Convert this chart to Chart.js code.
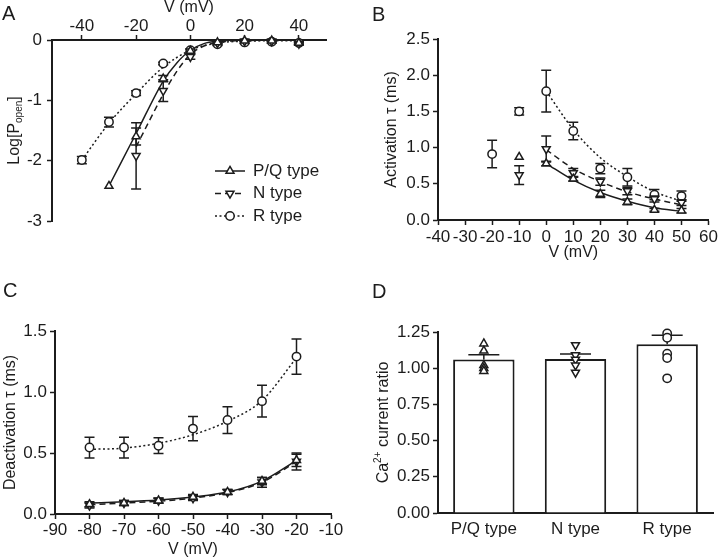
<!DOCTYPE html>
<html>
<head>
<meta charset="utf-8">
<script src="https://cdn.jsdelivr.net/npm/chart.js@4.4.0/dist/chart.umd.min.js"></script>
<style>
  html, body { margin: 0; padding: 0; background: #fff; }
  #wrap { position: relative; width: 720px; height: 560px; }
  #wrap canvas { position: absolute; }
</style>
</head>
<body>
<div id="wrap">
  <canvas id="chartA" width="360" height="280" style="left:0;top:0"></canvas>
  <canvas id="chartB" width="360" height="280" style="left:360px;top:0"></canvas>
  <canvas id="chartC" width="360" height="280" style="left:0;top:280px"></canvas>
  <canvas id="chartD" width="360" height="280" style="left:360px;top:280px"></canvas>
</div>
<script>
'use strict'

// ---- data ----
// A: log open probability vs voltage
const vPQ_A = [-30, -20, -10, 0, 10, 20, 30, 40]
const logPPQ = [-2.42, -1.60, -0.64, -0.18, -0.04, -0.01, -0.01, -0.05]
const errPPQ = [0, 0.14, 0.05, 0.03, 0.02, 0.01, 0.01, 0.02]
const vN_A = [-20, -10, 0, 10, 20, 30, 40]
const logPN = [-1.92, -0.84, -0.28, -0.05, -0.02, -0.02, -0.06]
const errPN = [0.55, 0.18, 0.04, 0.02, 0.01, 0.01, 0.02]
const vR_A = [-40, -30, -20, -10, 0, 10, 20, 30, 40]
const logPR = [-1.99, -1.36, -0.88, -0.39, -0.17, -0.07, -0.04, -0.03, -0.05]
const errPR = [0.06, 0.08, 0.04, 0.02, 0.02, 0.02, 0.02, 0.02, 0.02]
// fitted curves, traced
const fitPQ_Ax = [-30, -20, -10, -5, 0, 5, 10, 20, 40]
const fitPQ_Ay = [-2.42, -1.55, -0.68, -0.38, -0.17, -0.06, -0.02, 0, 0]
const fitN_Ax = [-20, -10, -5, 0, 5, 10, 20, 40]
const fitN_Ay = [-1.77, -0.90, -0.52, -0.24, -0.10, -0.04, -0.01, 0]
const fitR_Ax = [-40, -30, -20, -10, 0, 10, 20, 40]
const fitR_Ay = [-1.99, -1.38, -0.89, -0.45, -0.17, -0.05, -0.02, -0.01]
const ticksA_x = [-40, -20, 0, 20, 40]
const ticksA_y = [-3, -2, -1, 0]

// B: activation tau
const vPQ_B = [-10, 0, 10, 20, 30, 40, 50]
const actPQ = [0.87, 0.78, 0.57, 0.36, 0.25, 0.14, 0.13]
const actPQErr = [0, 0.03, 0.03, 0.05, 0.04, 0.02, 0.03]
const vN_B = [-10, 0, 10, 20, 30, 40, 50]
const actN = [0.62, 0.98, 0.65, 0.53, 0.40, 0.29, 0.24]
const actNErr = [0.13, 0.18, 0.06, 0.05, 0.05, 0.04, 0.04]
const vR_B = [-20, -10, 0, 10, 20, 30, 40, 50]
const actR = [0.91, 1.50, 1.78, 1.23, 0.71, 0.59, 0.35, 0.33]
const actRErr = [0.19, 0.05, 0.29, 0.12, 0.07, 0.12, 0.07, 0.07]
const fitBx = [0, 10, 20, 30, 40, 50]
const fitPQ_B = [0.78, 0.55, 0.38, 0.26, 0.17, 0.12]
const fitN_B = [0.97, 0.71, 0.53, 0.39, 0.29, 0.21]
const fitR_B = [1.78, 1.25, 0.86, 0.60, 0.39, 0.26]
const ticksB_x = [-40, -30, -20, -10, 0, 10, 20, 30, 40, 50, 60]
const ticksB_y = [0, 0.5, 1, 1.5, 2, 2.5]

// C: deactivation tau
const vC = [-80, -70, -60, -50, -40, -30, -20]
const deactPQ = [0.08, 0.09, 0.11, 0.14, 0.18, 0.27, 0.44]
const deactPQErr = [0.02, 0.02, 0.02, 0.02, 0.02, 0.03, 0.05]
const deactN = [0.07, 0.09, 0.11, 0.13, 0.18, 0.26, 0.43]
const deactNErr = [0.02, 0.02, 0.02, 0.02, 0.02, 0.04, 0.07]
const deactR = [0.545, 0.545, 0.56, 0.70, 0.77, 0.925, 1.29]
const deactRErr = [0.085, 0.085, 0.065, 0.10, 0.11, 0.13, 0.145]
const fitPQ_C = [0.09, 0.10, 0.115, 0.14, 0.18, 0.27, 0.44]
const fitN_C = [0.075, 0.09, 0.105, 0.13, 0.175, 0.26, 0.43]
const fitR_C = [0.53, 0.54, 0.58, 0.65, 0.76, 0.93, 1.28]
const ticksC_x = [-90, -80, -70, -60, -50, -40, -30, -20, -10]
const ticksC_y = [0, 0.5, 1, 1.5]

// D: Ca2+ current ratio
const typesD = ['P/Q type', 'N type', 'R type']
const ratioMean = [1.06, 1.064, 1.165]
const ratioSem = [0.033, 0.034, 0.062]
const ratioPQ = [1.17, 1.12, 1.02, 1.00, 0.98]
const ratioN = [1.16, 1.09, 1.06, 1.02, 0.97]
const ratioR = [1.24, 1.21, 1.10, 1.07, 0.93]
const ticksD_y = [0, 0.25, 0.5, 0.75, 1, 1.25]

const legendLabels = ['P/Q type', 'N type', 'R type']

// ---- styling ----
const INK = '#1c1c1c'
const FONT = '"Liberation Sans", Arial, Helvetica, sans-serif'
Chart.defaults.font.family = FONT
Chart.defaults.font.size = 16
Chart.defaults.color = INK
const TICK_FONT = { size: 17 }

const STYLE = {
  pq: { pointStyle: 'triangle', rotation: 0, radius: 4.6, dash: [] },
  n: { pointStyle: 'triangle', rotation: 180, radius: 4.6, dash: [6, 4] },
  r: { pointStyle: 'circle', rotation: 0, radius: 4.2, dash: [2, 2.5] }
}

const pts = (xs, ys) => xs.map((x, i) => ({ x, y: ys[i] }))

function markers(xs, ys, errs, st) {
  return {
    data: pts(xs, ys),
    errorBars: errs,
    showLine: false,
    pointStyle: st.pointStyle,
    pointRotation: st.rotation,
    pointRadius: st.radius,
    pointBackgroundColor: '#fff',
    pointBorderColor: INK,
    pointBorderWidth: 1.5,
    clip: false,
    order: 0
  }
}

function fitLine(xs, ys, st) {
  return {
    data: pts(xs, ys),
    showLine: true,
    borderColor: INK,
    borderWidth: 1.5,
    borderDash: st.dash,
    pointRadius: 0,
    cubicInterpolationMode: 'monotone',
    fill: false,
    order: 1
  }
}

function axis(o) {
  return {
    type: 'linear',
    position: o.position,
    min: o.min,
    max: o.max,
    afterBuildTicks: s => { s.ticks = o.ticks.map(value => ({ value })) },
    afterFit: s => {
      if (o.width) s.width = o.width
      if (o.height) s.height = o.height
    },
    grid: { display: true, drawOnChartArea: false, drawTicks: true, tickLength: 5, tickWidth: 1.5, tickColor: INK },
    border: { display: true, color: INK, width: 2 },
    ticks: {
      color: INK, padding: o.pad, autoSkip: false, maxRotation: 0, font: TICK_FONT,
      callback: v => o.fmt ? Number(v).toFixed(o.fmt) : String(v)
    },
    title: o.title
      ? { display: true, text: o.title, color: INK, font: { size: 16 }, padding: o.titlePad }
      : { display: false }
  }
}

// error bars, drawn through the y scale of each dataset
function drawErrorBars(chart, index, upOnly) {
  const ds = chart.data.datasets[index]
  const meta = chart.getDatasetMeta(index)
  const yScale = chart.scales[meta.yAxisID]
  const ctx = chart.ctx
  const cap = ds.capHalf || 5
  ctx.save()
  ctx.strokeStyle = INK
  ctx.lineWidth = 1.5
  meta.data.forEach((el, i) => {
    const err = ds.errorBars[i]
    if (!err) return
    const raw = ds.data[i]
    const v = typeof raw === 'object' ? raw.y : raw
    const top = yScale.getPixelForValue(v + err)
    const bot = upOnly ? el.y : yScale.getPixelForValue(v - err)
    ctx.beginPath()
    ctx.moveTo(el.x, top); ctx.lineTo(el.x, bot)
    ctx.moveTo(el.x - cap, top); ctx.lineTo(el.x + cap, top)
    if (!upOnly) { ctx.moveTo(el.x - cap, bot); ctx.lineTo(el.x + cap, bot) }
    ctx.stroke()
  })
  ctx.restore()
}

const errorBarPlugin = {
  id: 'errorBars',
  beforeDatasetDraw(chart, args) {
    const ds = chart.data.datasets[args.index]
    if (ds.errorBars && !ds.errUpOnly) drawErrorBars(chart, args.index, false)
  },
  afterDatasetDraw(chart, args) {
    const ds = chart.data.datasets[args.index]
    if (ds.errorBars && ds.errUpOnly) drawErrorBars(chart, args.index, true)
  }
}

// rotated y titles with sub/superscripts, plus the panel letter
const textPlugin = {
  id: 'panelText',
  afterDraw(chart, args, opts) {
    const ctx = chart.ctx
    const area = chart.chartArea
    ctx.save()
    ctx.fillStyle = INK
    if (opts.letter) {
      ctx.font = '20px ' + FONT
      ctx.textBaseline = 'alphabetic'
      ctx.fillText(opts.letter, opts.letterX, opts.letterY)
    }
    if (opts.segments) {
      ctx.translate(opts.titleX, (area.top + area.bottom) / 2)
      ctx.rotate(-Math.PI / 2)
      ctx.textBaseline = 'alphabetic'
      const fontOf = s => (s.sub || s.sup ? '10px ' : '16px ') + FONT
      let total = 0
      const widths = opts.segments.map(s => {
        ctx.font = fontOf(s)
        const w = ctx.measureText(s.text).width
        total += w
        return w
      })
      let x = -total / 2
      opts.segments.forEach((s, i) => {
        ctx.font = fontOf(s)
        ctx.fillText(s.text, x, s.sub ? 9 : s.sup ? -1.5 : 6)
        x += widths[i]
      })
    }
    ctx.restore()
  }
}

function drawMarker(ctx, st, x, y) {
  ctx.beginPath()
  if (st.pointStyle === 'circle') {
    ctx.arc(x, y, st.radius, 0, Math.PI * 2)
  } else {
    let rad = st.rotation * Math.PI / 180
    for (let k = 0; k < 3; k++) {
      const px = x + Math.sin(rad) * st.radius
      const py = y - Math.cos(rad) * st.radius
      if (k === 0) ctx.moveTo(px, py); else ctx.lineTo(px, py)
      rad += Math.PI * 2 / 3
    }
    ctx.closePath()
  }
  ctx.fillStyle = '#fff'
  ctx.fill()
  ctx.stroke()
}

const lineLegendPlugin = {
  id: 'lineLegend',
  afterDraw(chart, args, opts) {
    if (!opts.items) return
    const ctx = chart.ctx
    ctx.save()
    ctx.strokeStyle = INK
    ctx.lineWidth = 1.5
    opts.items.forEach((it, i) => {
      const y = opts.y + i * opts.gap
      ctx.setLineDash(it.style.dash)
      ctx.beginPath()
      ctx.moveTo(opts.x, y); ctx.lineTo(opts.x + 30, y)
      ctx.stroke()
      ctx.setLineDash([])
      drawMarker(ctx, it.style, opts.x + 15, y)
      ctx.fillStyle = INK
      ctx.font = '17px ' + FONT
      ctx.textBaseline = 'middle'
      ctx.fillText(it.label, opts.x + 38, y)
    })
    ctx.restore()
  }
}

const common = {
  responsive: false,
  animation: false,
  events: [],
  plugins: { legend: { display: false }, tooltip: { enabled: false } }
}

// ---- A ----
new Chart(document.querySelector('#chartA'), {
  type: 'scatter',
  data: {
    datasets: [
      fitLine(fitPQ_Ax, fitPQ_Ay, STYLE.pq),
      fitLine(fitN_Ax, fitN_Ay, STYLE.n),
      fitLine(fitR_Ax, fitR_Ay, STYLE.r),
      markers(vPQ_A, logPPQ, errPPQ, STYLE.pq),
      markers(vN_A, logPN, errPN, STYLE.n),
      markers(vR_A, logPR, errPR, STYLE.r)
    ]
  },
  options: {
    ...common,
    layout: { padding: { left: 0, top: 0, right: 34, bottom: 59 } },
    scales: {
      x: axis({ position: 'top', min: -51, max: 50, ticks: ticksA_x, height: 40, pad: -2, title: 'V (mV)', titlePad: { top: -2, bottom: 0 } }),
      y: axis({ position: 'left', min: -3, max: 0, ticks: ticksA_y, width: 52, pad: 5 })
    },
    plugins: {
      ...common.plugins,
      panelText: { letter: 'A', letterX: 2, letterY: 20, titleX: 13,
        segments: [{ text: 'Log[P' }, { text: 'open', sub: true }, { text: ']' }] },
      lineLegend: { x: 215, y: 171, gap: 22.5,
        items: [
          { label: legendLabels[0], style: STYLE.pq },
          { label: legendLabels[1], style: STYLE.n },
          { label: legendLabels[2], style: STYLE.r }
        ] }
    }
  },
  plugins: [errorBarPlugin, textPlugin, lineLegendPlugin]
})

// ---- B ----
new Chart(document.querySelector('#chartB'), {
  type: 'scatter',
  data: {
    datasets: [
      fitLine(fitBx, fitPQ_B, STYLE.pq),
      fitLine(fitBx, fitN_B, STYLE.n),
      fitLine(fitBx, fitR_B, STYLE.r),
      markers(vPQ_B, actPQ, actPQErr, STYLE.pq),
      markers(vN_B, actN, actNErr, STYLE.n),
      markers(vR_B, actR, actRErr, STYLE.r)
    ]
  },
  options: {
    ...common,
    layout: { padding: { left: 0, top: 39, right: 10, bottom: 18 } },
    scales: {
      x: axis({ position: 'bottom', min: -40, max: 60, ticks: ticksB_x, height: 42, pad: 2, title: 'V (mV)', titlePad: { top: 0, bottom: 0 } }),
      y: axis({ position: 'left', min: 0, max: 2.5, ticks: ticksB_y, width: 78, pad: 3, fmt: 1 })
    },
    plugins: {
      ...common.plugins,
      panelText: { letter: 'B', letterX: 12, letterY: 21, titleX: 30,
        segments: [{ text: 'Activation τ (ms)' }] }
    }
  },
  plugins: [errorBarPlugin, textPlugin]
})

// ---- C ----
new Chart(document.querySelector('#chartC'), {
  type: 'scatter',
  data: {
    datasets: [
      fitLine(vC, fitPQ_C, STYLE.pq),
      fitLine(vC, fitN_C, STYLE.n),
      fitLine(vC, fitR_C, STYLE.r),
      markers(vC, deactPQ, deactPQErr, STYLE.pq),
      markers(vC, deactN, deactNErr, STYLE.n),
      markers(vC, deactR, deactRErr, STYLE.r)
    ]
  },
  options: {
    ...common,
    layout: { padding: { left: 0, top: 51, right: 29, bottom: 0 } },
    scales: {
      x: axis({ position: 'bottom', min: -90, max: -10, ticks: ticksC_x, height: 46, pad: 1, title: 'V (mV)', titlePad: { top: 0, bottom: 1 } }),
      y: axis({ position: 'left', min: 0, max: 1.5, ticks: ticksC_y, width: 55, pad: 3, fmt: 1 })
    },
    plugins: {
      ...common.plugins,
      panelText: { letter: 'C', letterX: 3, letterY: 17, titleX: 9,
        segments: [{ text: 'Deactivation τ (ms)' }] }
    }
  },
  plugins: [errorBarPlugin, textPlugin]
})

// ---- D ----
const dotsD = (cat, ys, st) => ({
  type: 'line',
  data: ys.map(y => ({ x: cat, y })),
  showLine: false,
  pointStyle: st.pointStyle,
  pointRotation: st.rotation,
  pointRadius: st.radius,
  pointBackgroundColor: '#fff',
  pointBorderColor: INK,
  pointBorderWidth: 1.5,
  clip: false,
  order: 1
})

new Chart(document.querySelector('#chartD'), {
  type: 'bar',
  data: {
    labels: typesD,
    datasets: [
      {
        type: 'bar',
        data: ratioMean,
        errorBars: ratioSem,
        errUpOnly: true,
        capHalf: 15.5,
        backgroundColor: '#fff',
        borderColor: INK,
        borderWidth: 2,
        barPercentage: 0.67,
        categoryPercentage: 1,
        order: 2
      },
      dotsD(typesD[0], ratioPQ, STYLE.pq),
      dotsD(typesD[1], ratioN, STYLE.n),
      dotsD(typesD[2], ratioR, STYLE.r)
    ]
  },
  options: {
    ...common,
    layout: { padding: { left: 0, top: 52, right: 7, bottom: 0 } },
    scales: {
      x: {
        type: 'category',
        labels: typesD,
        afterFit: s => { s.height = 47 },
        grid: { display: false, drawTicks: false },
        border: { display: true, color: INK, width: 2 },
        ticks: { color: INK, padding: 6, autoSkip: false, maxRotation: 0, font: TICK_FONT }
      },
      y: axis({ position: 'left', min: 0, max: 1.25, ticks: ticksD_y, width: 78, pad: 3, fmt: 2 })
    },
    plugins: {
      ...common.plugins,
      panelText: { letter: 'D', letterX: 12, letterY: 18, titleX: 22,
        segments: [{ text: 'Ca' }, { text: '2+', sup: true }, { text: ' current ratio' }] }
    }
  },
  plugins: [errorBarPlugin, textPlugin]
})
</script>
</body>
</html>
